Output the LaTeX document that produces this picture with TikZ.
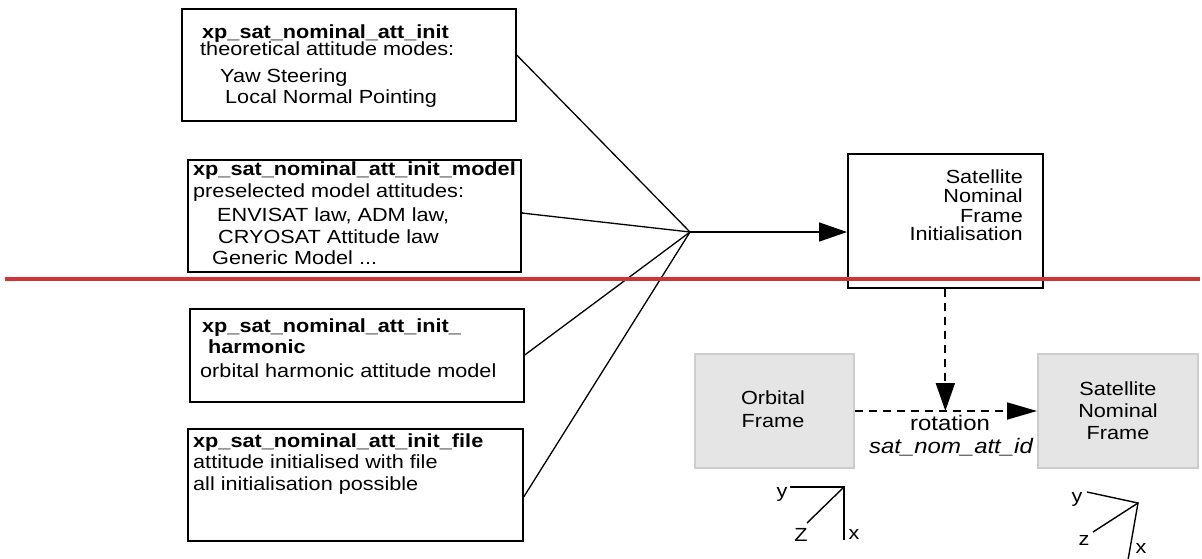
\documentclass[tikz,border=0pt]{standalone}
\usepackage{fontspec}
\setmainfont{Liberation Sans}[FakeStretch=1.14]
\usetikzlibrary{arrows.meta}
\definecolor{redline}{RGB}{206,52,56}
\definecolor{grayfill}{RGB}{229,229,229}
\definecolor{grayedge}{RGB}{205,205,205}
\begin{document}
\begin{tikzpicture}[x=1pt,y=-1pt,
  box/.style={draw, line width=1.7pt, inner sep=0pt, anchor=north west},
  gbox/.style={draw=grayedge, fill=grayfill, line width=2pt, inner sep=0pt, anchor=north west},
  tx/.style={anchor=base west, inner sep=0pt, font=\fontsize{19}{21}\selectfont},
  txb/.style={tx, font=\fontsize{19}{21}\selectfont\bfseries},
  txr/.style={anchor=base east, inner sep=0pt, font=\fontsize{19}{21}\selectfont},
  txc/.style={anchor=base, inner sep=0pt, font=\fontsize{19}{21}\selectfont},
  conn/.style={line width=1.3pt},
  bigarrow/.style={-{Triangle[length=28pt,width=19pt]}},
  dsh/.style={line width=1.8pt, dash pattern=on 8pt off 6pt},
  axis/.style={line width=1.4pt}]
\useasboundingbox (0,0) rectangle (1202,558);

% input boxes
\node[box, minimum width=334, minimum height=112] (b1) at (181,8) {};
\node[box, minimum width=333, minimum height=112] (b2) at (187,159) {};
\node[box, minimum width=334, minimum height=93] (b3) at (189,308) {};
\node[box, minimum width=335, minimum height=112] (b5) at (187,428) {};

\node[txb] (t1a) at (202,38) {xp\_sat\_nominal\_att\_init};
\node[tx]  (t1b) at (200,55) {theoretical attitude modes:};
\node[tx]  (t1c) at (220,82) {Yaw Steering};
\node[tx]  (t1d) at (225,103) {Local Normal Pointing};

\node[txb] (t2a) at (193,175) {xp\_sat\_nominal\_att\_init\_model};
\node[tx]  (t2b) at (193,197) {preselected model attitudes:};
\node[tx]  (t2c) at (217,221) {ENVISAT law, ADM law,};
\node[tx]  (t2d) at (218,243) {CRYOSAT Attitude law};
\node[tx]  (t2e) at (212,264) {Generic Model ...};

\node[txb] (t3a) at (202,332) {xp\_sat\_nominal\_att\_init\_};
\node[txb] (t3b) at (208,353) {harmonic};
\node[tx]  (t3c) at (200,377) {orbital harmonic attitude model};

\node[txb] (t5a) at (193,447) {xp\_sat\_nominal\_att\_init\_file};
\node[tx]  (t5b) at (193,468) {attitude initialised with file};
\node[tx]  (t5c) at (193,490) {all initialisation possible};

% initialisation box
\node[box, minimum width=195, minimum height=134] (b4) at (847,153) {};
\node[txr] (t4a) at (1023,183) {Satellite};
\node[txr] (t4b) at (1023,202) {Nominal};
\node[txr] (t4c) at (1023,222) {Frame};
\node[txr] (t4d) at (1023,240) {Initialisation};

% junction and connectors
\coordinate (j) at (690,232);
\draw[conn] (b1.east |- 0,55) -- (j);
\draw[conn] (b2.east |- 0,213) -- (j);
\fill (b2.east |- 0,213) circle (1.6pt);
\draw[conn] (b3.east |- 0,355) -- (j);
\draw[conn] (b5.east |- 0,497) -- (j);
\draw[line width=1.6pt, bigarrow] (j) -- (j -| b4.west);

% frames
\node[gbox, minimum width=159, minimum height=114] (orb) at (694,353) {};
\node[gbox, minimum width=160, minimum height=114] (snf) at (1037,353) {};
\node[txc] (to1) at (773,404) {Orbital};
\node[txc] (to2) at (773,427) {Frame};
\node[txc] (ts1) at (1118,395) {Satellite};
\node[txc] (ts2) at (1118,417) {Nominal};
\node[txc] (ts3) at (1118,439) {Frame};

\draw[dsh, bigarrow] (b4.south) -- (b4.south |- orb.east);
\draw[dsh, -{Triangle[length=30pt,width=17pt]}] (orb.east) -- (snf.west);

\node[anchor=base, inner sep=0pt, font=\fontsize{21}{23}\selectfont] (rot) at (950,430) {rotation};
\node[anchor=base, inner sep=0pt, font=\fontsize{21}{23}\selectfont\itshape] (rid) at (951,453) {sat\_nom\_att\_id};

% axes left
\coordinate (oa) at (844,487);
\coordinate (oay) at (790,487);
\coordinate (oax) at (844,540);
\coordinate (oaz) at (807,523);
\draw[axis] (oay) -- (oa) -- (oax);
\draw[axis] (oa) -- (oaz);
\node[txc] (ly) at (782,497) {y};
\node[txc] (lz) at (801,541) {Z};
\node[txc] (lx) at (854,539) {x};

% axes right
\coordinate (ra) at (1138,503);
\coordinate (ray) at (1087,492);
\coordinate (rax) at (1128,560);
\coordinate (raz) at (1093,532);
\draw[axis] (ray) -- (ra) -- (rax);
\draw[axis] (ra) -- (raz);
\node[txc] (ry) at (1077,502) {y};
\node[txc] (rz) at (1084,545) {z};
\node[txc] (rx) at (1141,553) {x};

% red rule
\draw[redline, line width=3.5pt] (5,279) -- (1200,279);
\end{tikzpicture}
\end{document}
